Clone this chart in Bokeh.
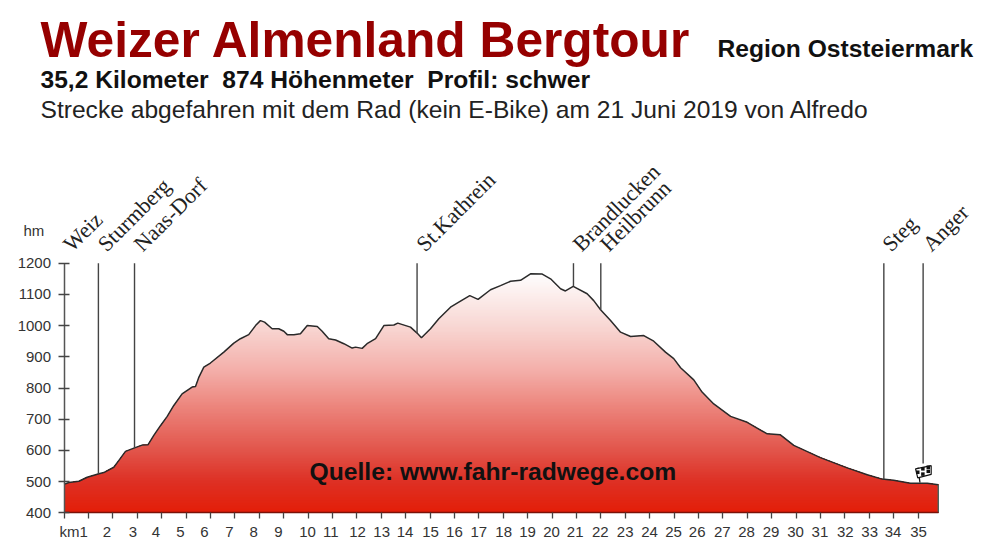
import numpy as np
from bokeh.plotting import figure
from bokeh.models import Label, FixedTicker, LinearAxis, Range1d
from bokeh.core.properties import value
from bokeh.embed import file_html
from bokeh.resources import INLINE

km = [0, 0.2, 0.61, 0.95, 1.43, 1.63, 2.04, 2.25, 2.52, 2.89, 3.2, 3.44, 3.68, 3.96, 4.23, 4.5, 4.84,
      5.25, 5.39, 5.53, 5.73, 6.0, 6.55, 6.96, 7.23, 7.57, 7.85, 8.05, 8.22, 8.53, 8.8, 9.01, 9.15, 9.42,
      9.69, 9.97, 10.38, 10.58, 10.85, 11.13, 11.47, 11.81, 11.95, 12.22, 12.42, 12.77, 13.11, 13.52,
      13.68, 14.2, 14.47, 14.65, 15.02, 15.36, 15.84, 16.18, 16.63, 16.97, 17.48, 17.89, 18.3, 18.71,
      19.12, 19.6, 19.94, 20.35, 20.55, 20.87, 21.44, 21.71, 21.99, 22.4, 22.81, 23.22, 23.76, 24.17,
      24.65, 24.99, 25.27, 25.81, 26.15, 26.63, 27.32, 28.0, 28.82, 29.36, 29.91, 31.0, 32.1, 32.92,
      33.53, 34.0, 34.69, 35.38, 35.83]
hm = [491, 497, 501, 514, 525, 529, 546, 568, 597, 608, 617, 618, 648, 680, 709, 744, 781,
      803, 805, 835, 867, 880, 915, 944, 958, 971, 1000, 1016, 1011, 990, 990, 982, 971, 971,
      974, 1000, 997, 982, 958, 954, 942, 928, 931, 927, 942, 958, 1000, 1002,
      1008, 995, 976, 961, 990, 1022, 1059, 1075, 1096, 1084, 1115, 1128, 1142, 1145,
      1166, 1165, 1150, 1118, 1111, 1126, 1102, 1080, 1051, 1016, 979, 965, 968, 950,
      915, 894, 865, 826, 787, 749, 709, 690, 653, 650, 616, 577, 544, 522,
      508, 504, 495, 495, 490]

places = ["Weiz", "Sturmberg", "Naas-Dorf", "St.Kathrein", "Brandlucken", "Heilbrunn", "Steg", "Anger"]
place_km = [0.0, 1.41, 2.89, 14.47, 20.88, 22.0, 33.6, 35.21]
line_bottom = [None, 525, 608, 976, 1126, 1051, 508, 558]

km_ticks = list(range(0, 36))
km_label_text = ["km1"] + [str(i) for i in range(2, 36)]
km_label_pos = [0.4, 1.76, 2.82, 3.77, 4.77, 5.75, 6.78, 7.77, 8.79, 9.98, 10.93, 12.03, 13.02, 13.98,
                15.02, 16.0, 17.0, 18.02, 19.0, 19.98, 20.95, 21.98, 23.0, 24.0, 24.98, 25.95, 26.98,
                27.97, 28.98, 29.98, 30.98, 32.02, 33.02, 33.98, 35.02]

elev_ticks = [400, 500, 600, 700, 800, 900, 1000, 1100, 1200]

stop_hm = [400, 504, 600, 760, 856, 985, 1170]
stop_r = [228, 222, 226, 238, 244, 248, 255]
stop_g = [30, 50, 85, 140, 175, 212, 255]
stop_b = [8, 38, 75, 132, 170, 208, 255]

flag_km = [34.9, 35.54, 35.54, 34.99]
flag_hm = [541, 551, 523, 512]
pole_km = [35.08, 35.0]
pole_hm = [497, 545]
check_km = [34.99, 35.2, 35.2, 35.42, 35.42]
check_hm = [530, 524, 541, 533, 546]

SCALE_X = 24.4
SCALE_Y = 0.312


def X(px):
    return (px - 63.5) / SCALE_X


def Y(py):
    return 400 + (512.3 - py) / SCALE_Y


p = figure(width=1000, height=543, output_backend="svg", toolbar_location=None,
           x_range=Range1d(X(0), X(1000)), y_range=Range1d(Y(543), Y(0)),
           min_border=0,
           x_axis_type=None, y_axis_type=None)
p.outline_line_color = None
p.grid.visible = False
p.background_fill_color = "white"

km_a = np.array(km, float)
hm_a = np.array(hm, float)
levels = np.arange(1170, 399, -5.0)
for b in levels:
    s = (hm_a[:-1] - b) * (hm_a[1:] - b) < 0
    idx = np.where(s)[0]
    cross = km_a[idx] + (b - hm_a[idx]) / (hm_a[idx + 1] - hm_a[idx]) * (km_a[idx + 1] - km_a[idx])
    xs = np.sort(np.concatenate([km_a, cross]))
    top = np.minimum(np.interp(xs, km_a, hm_a), b)
    t = b - 2.5
    col = "#%02x%02x%02x" % (int(np.interp(t, stop_hm, stop_r)), int(np.interp(t, stop_hm, stop_g)),
                             int(np.interp(t, stop_hm, stop_b)))
    p.varea(x=xs, y1=np.full_like(xs, 400.0), y2=top, fill_color=col)

p.line(km, hm, line_color="#2a2a2a", line_width=1.5)
p.segment(x0=[km[-1]], y0=[400], x1=[km[-1]], y1=[hm[-1]], line_color="#2f6f6a", line_width=1.2)

sel = [i for i, b in enumerate(line_bottom) if b is not None]
p.segment(x0=[place_km[i] for i in sel], y0=[1200] * len(sel),
          x1=[place_km[i] for i in sel], y1=[line_bottom[i] for i in sel],
          line_color="#444444", line_width=1.4)

p.line(pole_km, pole_hm, line_color="#111111", line_width=1.3)
p.patch(flag_km, flag_hm, fill_color="white", line_color="#111111", line_width=1.2)
p.scatter(check_km, check_hm, marker="square", size=3.5, color="#111111", line_color=None)

yaxis = LinearAxis(ticker=FixedTicker(ticks=elev_ticks), bounds=(400, 1200), fixed_location=0)
yaxis.axis_line_color = "#555555"
yaxis.axis_line_width = 1.5
yaxis.major_tick_line_color = "#444444"
yaxis.major_tick_line_width = 1.3
yaxis.major_tick_in = 5
yaxis.major_tick_out = 6
yaxis.minor_tick_line_color = None
yaxis.major_label_text_font = "Liberation Sans"
yaxis.major_label_text_font_size = "15px"
yaxis.major_label_text_color = "#333333"
yaxis.major_label_standoff = 7
p.add_layout(yaxis, "left")

xaxis = LinearAxis(ticker=FixedTicker(ticks=km_label_pos, minor_ticks=km_ticks), bounds=(0, km[-1]), fixed_location=400)
xaxis.axis_line_color = "#7a1208"
xaxis.axis_line_width = 1.5
xaxis.major_tick_line_color = None
xaxis.major_tick_in = 0
xaxis.major_tick_out = 0
xaxis.minor_tick_line_color = "#444444"
xaxis.minor_tick_line_width = 1.3
xaxis.minor_tick_in = 0
xaxis.minor_tick_out = 6
xaxis.major_label_overrides = dict(zip(km_label_pos, km_label_text))
xaxis.major_label_text_font = "Liberation Sans"
xaxis.major_label_text_font_size = "15px"
xaxis.major_label_text_color = "#333333"
xaxis.major_label_standoff = 4
p.add_layout(xaxis, "below")

label_off_x = [3, 3, 3, 3, 3, 3, 2, 3]
for name, k, dx in zip(places, place_km, label_off_x):
    p.text(x=[k + dx / SCALE_X], y=[Y(247)], text=[name], angle=45, angle_units="deg",
           text_font=value("Liberation Serif"), text_font_size="22px", text_color="#222222",
           text_align="left", text_baseline="alphabetic")


def lab(txt, px, py, size, color, bold=False, font="Liberation Sans"):
    p.add_layout(Label(x=X(px), y=Y(py - 0.36 * size), text=txt, text_font=font,
                       text_font_size=f"{size}px",
                       text_color=color, text_font_style="bold" if bold else "normal",
                       text_align="left", text_baseline="alphabetic"))


lab("Weizer Almenland Bergtour", 40, 57, 49.7, "#960000", True)
lab("Region Oststeiermark", 717, 57, 24.6, "#111111", True)
lab("35,2 Kilometer\u00a0\u00a0874 Höhenmeter\u00a0\u00a0Profil: schwer", 40, 88, 24.6, "#111111", True)
lab("Strecke abgefahren mit dem Rad (kein E-Bike) am 21 Juni 2019 von Alfredo", 40, 118, 24.6, "#222222")
lab("hm", 23, 235, 15, "#333333")
lab("Quelle: www.fahr-radwege.com", 309, 480, 24.7, "#111111", True)

open("out.html", "w").write(file_html(p, INLINE))
